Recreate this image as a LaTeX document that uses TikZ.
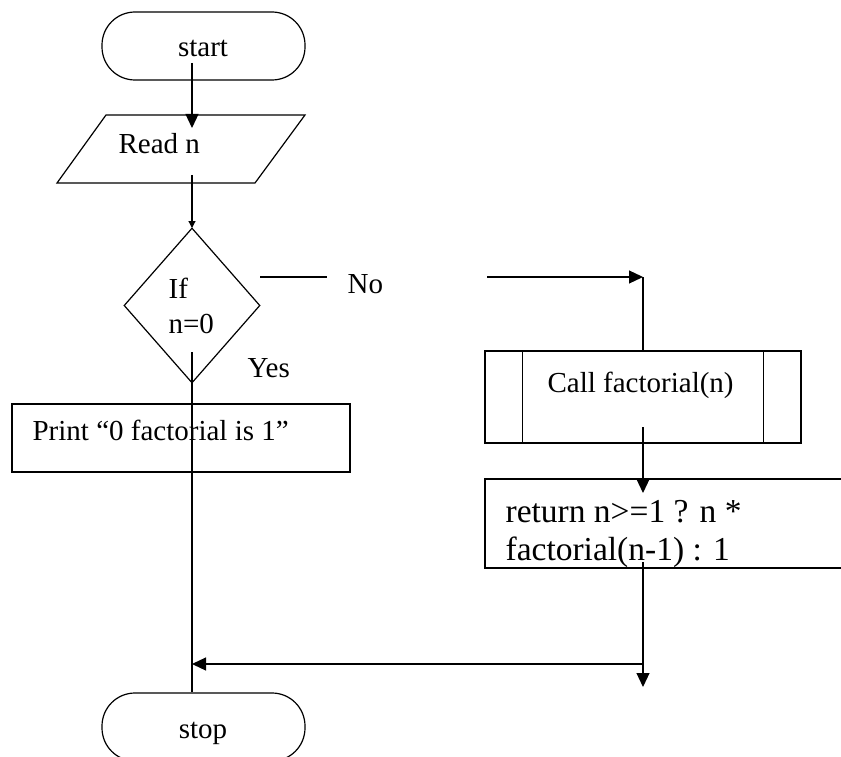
\documentclass[tikz,border=0pt]{standalone}
\usepackage{fontspec}
\setmainfont{Liberation Serif}
\usetikzlibrary{arrows.meta,shapes.geometric}
\begin{document}
\begin{tikzpicture}[x=1pt,y=-1pt,
  line width=1.2pt,
  lbl/.style={inner sep=0pt,font=\fontsize{29}{34}\selectfont},
  biglbl/.style={inner sep=0pt,font=\fontsize{33.5}{38}\selectfont},
  term/.style={draw,rectangle,rounded corners=33pt,minimum width=203pt,minimum height=68pt,inner sep=0pt},
  box/.style={draw,rectangle,inner sep=0pt},
  tip/.style={-{Triangle[length=14pt,width=13pt]}},
  smalltip/.style={-{Triangle[length=7pt,width=7pt]}}]
\clip (0,0) rectangle (841,757);
\fill[white] (0,0) rectangle (841,757);

% shapes
\node[term] (start) at (203.5,46) {};
\draw (106,115) -- (305,115) -- (255,183) -- (57,183) -- cycle;
\node[draw,diamond,minimum width=136pt,minimum height=155pt,inner sep=0pt] (dec) at (192,305.5) {};
\node[box,minimum width=338pt,minimum height=68pt] (print) at (181,438) {};
\node[box,minimum width=316pt,minimum height=92pt] (call) at (643,397) {};
\draw ([xshift=38pt]call.north west) -- ([xshift=38pt]call.south west);
\draw ([xshift=-38pt]call.north east) -- ([xshift=-38pt]call.south east);
\node[box,minimum width=400pt,minimum height=89pt] (ret) at (685,523.5) {};
\node[term] (stop) at (203.5,727) {};

% texts
\node[lbl,anchor=base] (tstart) at (203,57) {start};
\node[lbl,anchor=base west] (tread) at (118,154) {Read n};
\node[lbl,anchor=base west] (tif) at (168,298) {If};
\node[lbl,anchor=base west] (tn) at (168,333) {n=0};
\node[lbl,anchor=base west] (tno) at (347,293) {No};
\node[lbl,anchor=base west] (tyes) at (247,377) {Yes};
\node[lbl,anchor=base west] (tprint) at (32,440) {Print “0 factorial is 1”};
\node[lbl,anchor=base west] (tcall) at (547,392) {Call factorial(n)};
\node[biglbl,anchor=base west] (tret1) at (505,522) {return n>=1 ? n *};
\node[biglbl,anchor=base west] (tret2) at (505,560) {factorial(n-1) : 1};
\node[lbl,anchor=base] (tstop) at (203,738) {stop};

% connector points
\coordinate (c1) at (192,63);
\coordinate (c2) at (192,128);
\coordinate (c3) at (192,175);
\coordinate (c4) at (192,228);
\coordinate (c5) at (192,352);
\coordinate (no1) at (260,277);
\coordinate (no2) at (327,277);
\coordinate (no3) at (487,277);
\coordinate (no4) at (643,277);
\coordinate (k1) at (643,427);
\coordinate (k2) at (643,493);
\coordinate (r1) at (643,562);
\coordinate (r2) at (643,687);
\coordinate (h1) at (643,664);
\coordinate (h2) at (192,664);

% connectors
\draw[tip] (c1) -- (c2);
\draw[smalltip] (c3) -- (c4);
\draw (c5) -- (c5 |- stop.north);
\draw (no1) -- (no2);
\draw[tip] (no3) -- (no4);
\draw (no4) -- (no4 |- call.north);
\draw[tip] (k1) -- (k2);
\draw[tip] (r1) -- (r2);
\draw[tip] (h1) -- (h2);
\end{tikzpicture}
\end{document}
